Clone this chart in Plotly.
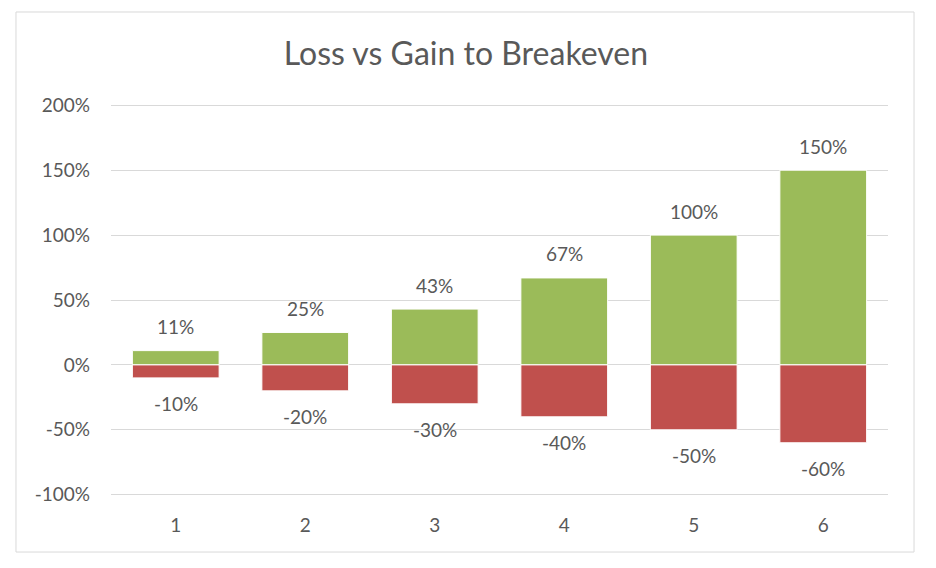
import plotly.graph_objects as go

categories = ["1", "2", "3", "4", "5", "6"]
gain = [0.11, 0.25, 0.43, 0.67, 1.00, 1.50]
loss = [-0.10, -0.20, -0.30, -0.40, -0.50, -0.60]
y_ticks = [-1.0, -0.5, 0.0, 0.5, 1.0, 1.5, 2.0]
y_ticktext = [f"{round(v*100)}%" for v in y_ticks]

FONT = "Lato"
TXT = "#595959"
GREEN = "#9BBB59"
RED = "#C0504D"

fig = go.Figure()
fig.add_trace(go.Bar(x=categories, y=gain, marker=dict(color=GREEN, line=dict(color="white", width=1)),
                     name="Gain", hoverinfo="skip"))
fig.add_trace(go.Bar(x=categories, y=loss, marker=dict(color=RED, line=dict(color="white", width=1)),
                     name="Loss", hoverinfo="skip"))

annotations = []
for i, g in enumerate(gain):
    annotations.append(dict(x=i, y=g, xref="x", yref="y", text=f"{round(g*100)}%", showarrow=False,
                            yanchor="middle", yshift=24, font=dict(family=FONT, size=19, color=TXT)))
for i, l in enumerate(loss):
    annotations.append(dict(x=i, y=l, xref="x", yref="y", text=f"{round(l*100)}%", showarrow=False,
                            yanchor="middle", yshift=-26, font=dict(family=FONT, size=19, color=TXT)))

# plot area: 777 x 392 px ; 50% step ~ 64.9 px
fig.update_layout(
    width=928, height=560,
    margin=dict(l=103, r=48, t=96, b=72),
    paper_bgcolor="white", plot_bgcolor="white",
    barmode="relative", bargap=0.33,
    showlegend=False,
    title=dict(text="Loss vs Gain to Breakeven", x=0.4935, xanchor="center", y=0.918, yanchor="middle",
               font=dict(family=FONT, size=32, color=TXT)),
    font=dict(family=FONT, size=19, color=TXT),
    annotations=annotations,
    shapes=[dict(type="rect", xref="paper", yref="paper", x0=-0.1223, x1=1.0335, y0=-0.1429, y1=1.2347,
                 line=dict(color="#D9D9D9", width=1), fillcolor="rgba(0,0,0,0)", layer="below")],
)
fig.update_xaxes(type="category", showgrid=False, showline=False, ticks="", ticklabelstandoff=16,
                 tickfont=dict(family=FONT, size=19, color=TXT))
fig.update_yaxes(range=[-1.01, 2.01], tickvals=y_ticks, ticktext=y_ticktext, showgrid=True, gridcolor="#D9D9D9",
                 gridwidth=1, zeroline=False, showline=False, ticks="", ticklabelstandoff=20,
                 tickfont=dict(family=FONT, size=19, color=TXT))

fig.write_html("out.html")
